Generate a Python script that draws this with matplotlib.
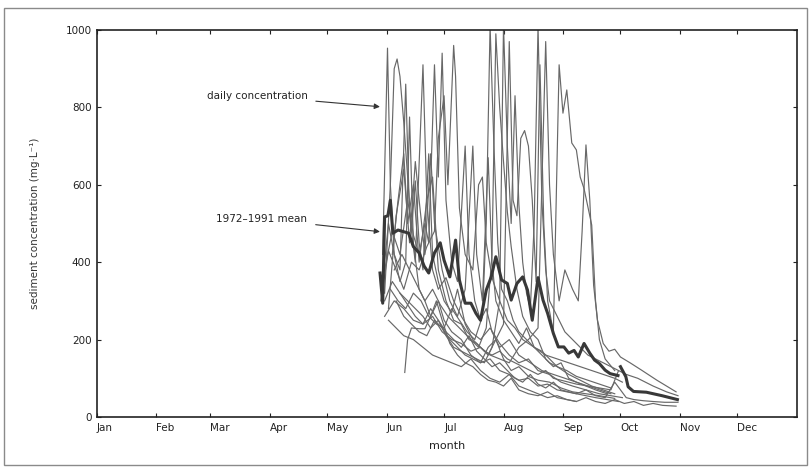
import matplotlib.pyplot as plt
from matplotlib.patches import Rectangle

# month labels and the day of year each month starts on
months = ['Jan', 'Feb', 'Mar', 'Apr', 'May', 'Jun', 'Jul', 'Aug', 'Sep', 'Oct', 'Nov', 'Dec']
month_start = [0, 31, 59, 90, 120, 151, 181, 212, 243, 273, 304, 334]

# daily concentration traces, one per season as (day of year, mg/L)
year_01 = [(149, 420), (151.5, 953), (153, 600), (155, 420), (158, 350), (161, 400), (163, 775), (165, 450),
           (168, 330), (171, 300), (174, 260), (178, 300), (181, 250), (185, 220), (190, 200), (195, 160),
           (200, 140), (205, 150), (210, 120), (215, 110), (220, 95), (225, 100), (230, 80), (235, 85),
           (240, 70), (245, 65), (250, 60), (255, 55), (260, 50), (266, 45), (272, 40)]
year_02 = [(150, 320), (153, 600), (155, 900), (156.5, 925), (158, 880), (160, 760), (162, 620), (164, 480),
           (166, 610), (168, 450), (170, 380), (173, 680), (175, 420), (178, 350), (181, 300), (185, 270),
           (188, 330), (192, 240), (196, 200), (200, 180), (204, 160), (208, 200), (212, 150), (216, 120),
           (220, 130), (225, 105), (230, 95), (236, 90), (242, 75), (248, 65), (255, 60), (262, 55), (270, 48)]
year_03 = [(149, 350), (152, 500), (155, 420), (158, 380), (161, 860), (163, 520), (166, 400), (170, 910),
           (172, 560), (175, 380), (178, 330), (182, 360), (186, 300), (190, 260), (195, 220), (200, 200),
           (205, 230), (210, 190), (215, 160), (220, 140), (225, 150), (230, 120), (236, 110), (242, 90),
           (248, 80), (255, 70), (262, 60), (268, 55), (274, 50)]
year_04 = [(150, 380), (154, 480), (158, 420), (162, 560), (165, 470), (168, 420), (171, 500), (173, 450),
           (176, 910), (178, 620), (180, 940), (182, 560), (185, 400), (188, 350), (192, 700), (194, 420),
           (197, 300), (200, 250), (203, 280), (206, 220), (210, 180), (215, 200), (220, 160), (226, 140),
           (232, 120), (238, 110), (244, 100), (250, 90), (256, 80), (262, 70), (268, 60)]
year_05 = [(148, 300), (152, 430), (156, 380), (160, 330), (164, 400), (168, 380), (172, 440), (176, 480),
           (178, 720), (181, 830), (183, 600), (186, 960), (187, 880), (189, 540), (192, 420), (196, 380),
           (199, 600), (201, 620), (203, 450), (206, 360), (210, 300), (214, 250), (218, 230), (222, 200),
           (228, 180), (234, 160), (240, 150), (246, 140), (252, 130), (258, 120), (264, 110), (270, 100),
           (274, 90)]
year_06 = [(160.5, 115), (162, 200), (164, 230), (168, 228), (171, 228), (174, 260), (177, 300), (180, 250),
           (184, 190), (188, 160), (192, 140), (196, 130), (200, 110), (204, 95), (208, 90), (212, 80),
           (216, 100), (220, 70), (225, 60), (230, 55), (235, 65), (240, 50), (245, 45), (250, 40)]
year_07 = [(152, 280), (156, 520), (160, 640), (163, 450), (166, 660), (168, 560), (171, 420), (174, 680),
           (176, 500), (180, 380), (184, 300), (188, 260), (192, 330), (196, 700), (198, 420), (201, 300),
           (204, 670), (206, 400), (208, 300), (212, 250), (216, 220), (220, 190), (224, 230), (228, 180),
           (232, 160), (236, 140), (240, 130), (246, 110), (252, 95), (258, 80), (264, 70), (270, 60)]
year_08 = [(153, 330), (157, 300), (161, 280), (165, 320), (169, 300), (173, 260), (177, 240), (181, 230),
           (185, 280), (189, 250), (193, 220), (197, 200), (201, 260), (203, 500), (205, 1010), (207, 700),
           (209, 450), (211, 330), (214, 300), (217, 250), (220, 220), (224, 200), (228, 180), (232, 170),
           (236, 150), (240, 130), (245, 120), (250, 105), (256, 95), (262, 85), (268, 75)]
year_09 = [(155, 380), (159, 420), (163, 380), (167, 340), (171, 300), (175, 330), (179, 290), (183, 260),
           (187, 240), (191, 220), (195, 200), (199, 180), (203, 230), (206, 420), (208, 990), (210, 800),
           (212, 660), (214, 530), (216, 440), (219, 330), (222, 260), (226, 220), (230, 200), (234, 150),
           (238, 130), (242, 140), (246, 100), (250, 90), (255, 80), (260, 70), (266, 60)]
year_10 = [(150, 300), (154, 350), (158, 320), (162, 300), (166, 280), (170, 260), (174, 230), (178, 250),
           (182, 210), (186, 180), (190, 170), (194, 160), (198, 150), (202, 140), (206, 180), (210, 300),
           (212, 1010), (214, 700), (216, 500), (218, 830), (220, 550), (222, 400), (224, 320), (226, 280),
           (228, 500), (230, 1010), (232, 560), (234, 380), (236, 300), (240, 260), (244, 220), (248, 200),
           (252, 180), (256, 160), (260, 150), (264, 140), (268, 130), (272, 120)]
year_11 = [(156, 300), (160, 260), (164, 240), (168, 220), (172, 210), (176, 250), (180, 230), (184, 200),
           (188, 180), (192, 160), (196, 150), (200, 140), (204, 180), (208, 200), (212, 240), (215, 970),
           (217, 560), (219, 520), (221, 720), (223, 740), (225, 700), (227, 560), (229, 350), (231, 910),
           (233, 500), (235, 300), (238, 220), (241, 910), (243, 785), (245, 845), (247.6, 708), (250, 690),
           (252, 620), (254, 590), (258, 496), (260, 300), (262, 200), (265, 150), (270, 120)]
year_12 = [(150, 260), (155, 300), (160, 280), (165, 250), (170, 240), (175, 260), (180, 220), (185, 200),
           (190, 190), (195, 170), (200, 180), (205, 160), (210, 150), (215, 140), (220, 180), (225, 200),
           (230, 230), (234, 970), (236, 600), (238, 420), (241, 300), (244, 380), (248, 330), (251, 300),
           (253, 480), (255, 703), (257, 560), (259, 340), (261, 250), (264, 190), (267, 170), (270, 175),
           (273, 155), (278, 140), (284, 121), (292, 95), (302, 65)]
year_13 = [(152, 250), (156, 230), (160, 210), (165, 200), (170, 180), (175, 160), (180, 150), (185, 140),
           (190, 130), (195, 150), (200, 120), (205, 100), (210, 90), (215, 110), (220, 80), (225, 70),
           (230, 60), (235, 50), (240, 55), (245, 45), (250, 40), (255, 50), (260, 40), (265, 35), (270, 45),
           (275, 35), (280, 40), (285, 30), (290, 35), (295, 30), (302, 28)]
year_14 = [(158, 320), (162, 290), (166, 260), (170, 240), (174, 280), (178, 250), (182, 220), (186, 200),
           (190, 180), (194, 210), (198, 170), (202, 150), (206, 130), (210, 140), (214, 120), (218, 100),
           (222, 90), (226, 110), (230, 85), (234, 75), (238, 90), (242, 70), (246, 65), (250, 60), (255, 70),
           (260, 55), (265, 50), (270, 90), (273, 70), (276, 50), (280, 45), (285, 42), (290, 40), (296, 38),
           (303, 38)]
year_15 = [(154, 420), (157, 560), (160, 680), (162, 500), (165, 600), (168, 400), (172, 560), (175, 620),
           (178, 380), (182, 300), (186, 250), (190, 240), (194, 200), (198, 190), (202, 170), (206, 160),
           (210, 170), (214, 150), (218, 140), (222, 130), (226, 120), (230, 110), (234, 120), (238, 100),
           (242, 95), (246, 90), (250, 85), (256, 80), (262, 75), (268, 70), (272, 120), (276, 110),
           (282, 100), (290, 80), (297, 65), (303, 55)]
years = [year_01, year_02, year_03, year_04, year_05, year_06, year_07, year_08,
         year_09, year_10, year_11, year_12, year_13, year_14, year_15]

# 1972-1991 mean (two pieces, there is a break at the end of September)
mean_days_1 = [147.6, 149, 150, 151.7, 153, 154.3, 157, 162.5, 165, 168, 170.6, 173, 176, 179, 181, 184,
               187, 189, 192, 195, 197.6, 200, 203, 205.6, 208, 211, 214, 216, 219, 222, 224.5, 227, 230,
               232.6, 235, 238, 240.6, 243.5, 246, 248.8, 251, 254, 257, 259.5, 262, 265, 267.6, 271.7]
mean_conc_1 = [372, 294, 517, 520, 560, 475, 483, 475, 440, 424, 390, 372, 424, 450, 405, 362,
               457, 354, 294, 294, 268, 250, 328, 362, 414, 354, 345, 302, 345, 362, 328, 250, 360,
               302, 268, 216, 181, 181, 165, 172, 155, 190, 165, 147, 138, 121, 112, 107]
mean_days_2 = [273, 275.8, 277, 279.8, 286.5, 294.7, 302.7]
mean_conc_2 = [130, 104, 78, 66, 64, 55, 45]

fig = plt.figure(figsize=(8.11, 4.68), dpi=100)
ax = fig.add_axes([0.1196, 0.109, 0.863, 0.827])

# light frame round the whole figure, as in the scanned page
fig.patches.append(Rectangle((0.005, 0.006), 0.99, 0.976, transform=fig.transFigure,
                             fill=False, edgecolor='#8a8a8a', linewidth=1))

for yr in years:
    ax.plot([p[0] for p in yr], [p[1] for p in yr], color='#686868', linewidth=0.85)

ax.plot(mean_days_1, mean_conc_1, color='#383838', linewidth=2.2)
ax.plot(mean_days_2, mean_conc_2, color='#383838', linewidth=2.2)

ax.set_xlim(0, 365)
ax.set_ylim(0, 1000)
ax.set_xticks(month_start)
ax.set_xticklabels(months, ha='left')
ax.set_yticks(range(0, 1001, 200))
ax.tick_params(direction='in', top=True, right=True, length=3, width=0.8,
               labelsize=7.5, colors='#222222', pad=4)
for s in ax.spines.values():
    s.set_linewidth(1.2)
    s.set_color('#222222')

ax.set_xlabel('month', fontsize=8, color='#222222', labelpad=6)
ax.set_ylabel('sediment concentration (mg·L⁻¹)', fontsize=7.5, color='#333333', labelpad=18)

arrow = dict(arrowstyle='-|>', color='#333333', linewidth=0.8, mutation_scale=8, shrinkA=4)
ax.annotate('daily concentration', xy=(149, 801), xytext=(83.5, 829), fontsize=7.5,
            ha='center', va='center', color='#222222', arrowprops=arrow)
ax.annotate('1972–1991 mean', xy=(149, 478), xytext=(86, 512), fontsize=7.5,
            ha='center', va='center', color='#222222', arrowprops=arrow)

fig.savefig('out.png', dpi=100)
